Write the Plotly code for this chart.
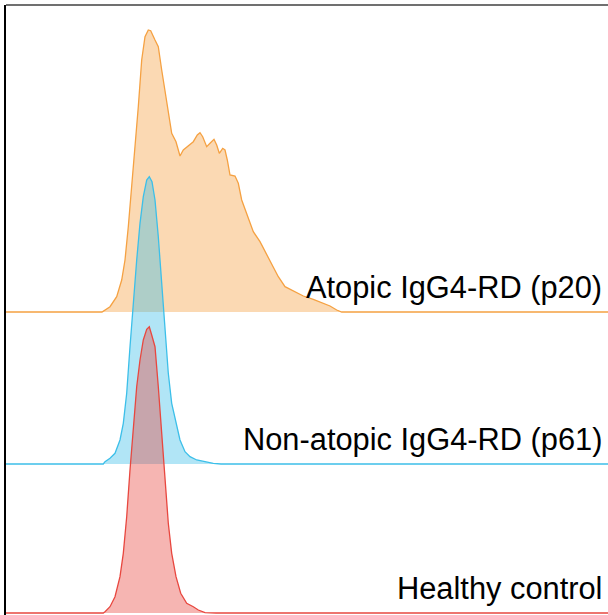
import plotly.graph_objects as go

# Ridge density curves (x: fluorescence, arbitrary units; y: density height)
atopic_x = [0, 96, 104, 110.7, 115.7, 119, 122.3, 125.7, 129, 132.3, 135.7, 139, 142.3, 144.7,
            149, 152.3, 155.7, 159, 162.3, 165.7, 170, 174, 177.3, 182.3, 187.3, 191.3, 194,
            196.7, 200.7, 204, 208, 210.7, 213.3, 216.7, 219, 221.3, 224, 229, 232.3, 235.7,
            240.7, 247.3, 254, 260.7, 267.3, 272.3, 279, 287.3, 297.3, 307.3, 317.3, 324,
            330.7, 335.7, 602]
atopic_y = [0, 0, 5.3, 15.3, 32, 52, 85.3, 125.3, 165.3, 205.3, 252, 275.3, 282, 281.3,
            272, 265.3, 242, 222, 202, 178.7, 170.3, 156, 162, 166, 170.3, 177, 179.3,
            175.3, 165.3, 168.7, 172.7, 167, 158.7, 163.7, 162, 152, 137, 136, 128.7, 112,
            98.7, 80.3, 70.3, 57, 45.3, 35.3, 25.3, 21.3, 16, 12.7, 8.7, 6,
            2, 0, 0]

nonatopic_x = [0, 97.3, 99, 104, 109, 114, 117.3, 120.7, 124, 127.3, 130.7, 134, 137.3, 140.7,
               143.3, 146, 149, 152.3, 155.7, 159, 162.3, 165.7, 170, 174, 179, 184, 190.7,
               199, 207.3, 215, 602]
nonatopic_y = [0, 0, 2.3, 5.7, 10.7, 24, 40.7, 70.7, 117.3, 164, 204, 240.7, 267.3, 284,
               287.3, 282.3, 264, 227.3, 177.3, 130.7, 90.7, 60.7, 40.7, 24, 12.3, 7.3, 4,
               2.3, 0.7, 0, 0]

healthy_x = [0, 97.3, 99, 104, 109, 114, 117.3, 120.7, 124, 127.3, 130.7, 134, 137.3, 140.7,
             143.3, 145.7, 149, 152.3, 155.7, 159, 162.3, 165.7, 170, 174.7, 180.7, 187.3,
             192.3, 199, 210, 602]
healthy_y = [0, 0, 1.3, 6.3, 16.3, 36.3, 59.7, 96.3, 143, 186.3, 226.3, 253, 273, 283.7,
             286.3, 278, 266.3, 226.3, 176.3, 129.7, 89.7, 59.7, 36.3, 19.7, 9.7, 6.3,
             3, 0.3, 0, 0]

labels = ["Atopic IgG4-RD (p20)", "Non-atopic IgG4-RD (p61)", "Healthy control"]
offsets = [301, 149, 0]
line_colors = ["#f5a142", "#3cbfe9", "#e8473f"]
fill_colors = ["rgba(245,161,66,0.4)", "rgba(60,191,233,0.4)", "rgba(232,71,63,0.4)"]

series = [(atopic_x, atopic_y), (nonatopic_x, nonatopic_y), (healthy_x, healthy_y)]

fig = go.Figure()
for (xs, ys), off, lc, fc in zip(series, offsets, line_colors, fill_colors):
    fig.add_trace(go.Scatter(
        x=xs, y=[v + off for v in ys], mode="lines", fill="toself",
        line=dict(color=lc, width=1.3), fillcolor=fc, hoverinfo="skip",
        showlegend=False))

for lab, off in zip(labels, offsets):
    fig.add_annotation(x=598, y=off + 25, text=lab, showarrow=False,
                       xanchor="right", yanchor="middle",
                       font=dict(family="Liberation Sans, Arial, sans-serif", size=30.8, color="#000000"))

fig.add_shape(type="line", xref="paper", yref="paper", x0=0, x1=1, y0=1, y1=1,
              line=dict(color="#707070", width=2))

fig.update_xaxes(range=[0, 602], showgrid=False, zeroline=False, showticklabels=False,
                 ticks="", showline=False)
fig.update_yaxes(range=[-2, 608], showgrid=False, zeroline=False, showticklabels=False,
                 ticks="", showline=True, linecolor="#000000", linewidth=1.5)

fig.update_layout(width=608, height=615, margin=dict(l=6, r=0, t=5, b=0),
                  plot_bgcolor="white", paper_bgcolor="white")

fig.write_html("out.html")
